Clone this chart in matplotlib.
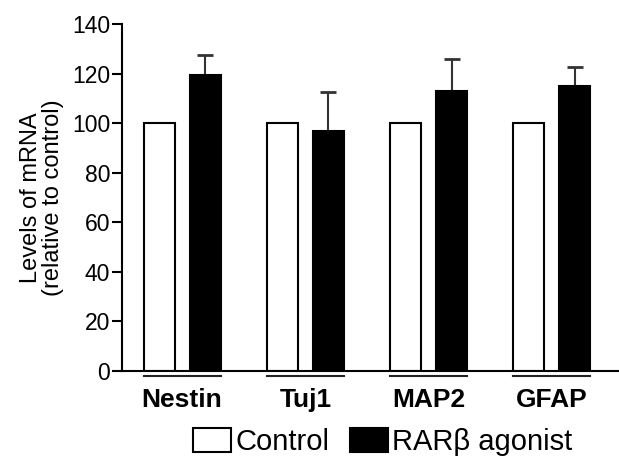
import matplotlib
matplotlib.use("Agg")
import matplotlib.pyplot as plt
import matplotlib.patches as mpatches
import numpy as np

plt.rcParams["font.family"] = ["Liberation Sans", "DejaVu Sans"]

genes = ["Nestin", "Tuj1", "MAP2", "GFAP"]
control = [100, 100, 100, 100]
agonist = [119.5, 97, 113, 115]
agonist_err = [8, 15.5, 13, 7.7]
yticks = [0, 20, 40, 60, 80, 100, 120, 140]

fig = plt.figure(figsize=(6.19, 4.58), dpi=100)
ax = fig.add_axes([0.197, 0.19, 0.803, 0.7576])

x = np.arange(len(genes))
off = 0.187
w = 0.252

ax.bar(x - off, control, width=w, color="white", edgecolor="black", linewidth=1.5, zorder=2)
ax.bar(x + off, agonist, width=w, color="black", edgecolor="black", linewidth=1.5, zorder=2)
ax.errorbar(x + off, agonist, yerr=[np.zeros(len(genes)), agonist_err], fmt="none",
            ecolor="#333333", elinewidth=1.5, capsize=6, capthick=2, zorder=1)

# group underlines
trans = ax.get_xaxis_transform()
for xi in x:
    ax.plot([xi - off - w / 2, xi + off + w / 2], [-0.0144, -0.0144], color="#222222",
            lw=1.5, transform=trans, clip_on=False)

ax.set_xlim(-0.488, 3.545)
ax.set_ylim(0, 140)
ax.set_yticks(yticks)
ax.set_xticks(x)
ax.set_xticklabels(genes, fontsize=19, fontweight="bold")
ax.tick_params(axis="x", length=0, pad=12)
ax.tick_params(axis="y", length=7, width=1.5, labelsize=16.5, pad=1.5)
for s in ["top", "right"]:
    ax.spines[s].set_visible(False)
for s in ["left", "bottom"]:
    ax.spines[s].set_linewidth(1.5)

ax.set_ylabel("Levels of mRNA\n(relative to control)", fontsize=17, linespacing=0.95, labelpad=6)

handles = [mpatches.Patch(facecolor="white", edgecolor="black", linewidth=1.5, label="Control"),
           mpatches.Patch(facecolor="black", edgecolor="black", linewidth=1.5, label="RAR\u03b2 agonist")]
fig.legend(handles=handles, loc="center", bbox_to_anchor=(383 / 619, 1 - 442 / 458), ncol=2,
           frameon=False, fontsize=21, handlelength=1.3, handleheight=0.86, handletextpad=0.15,
           columnspacing=0.7, borderpad=0)

fig.savefig("out.png", dpi=100)
